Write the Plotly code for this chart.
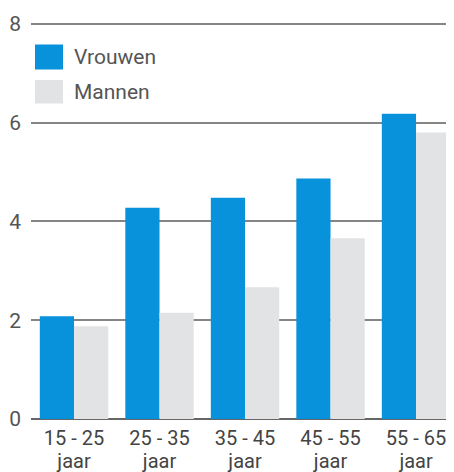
import plotly.graph_objects as go

groups = ["15 - 25", "25 - 35", "35 - 45", "45 - 55", "55 - 65"]
unit = "jaar"
vrouwen = [2.08, 4.28, 4.48, 4.87, 6.18]
mannen = [1.88, 2.15, 2.67, 3.66, 5.80]
y_ticks = [0, 2, 4, 6, 8]

BLUE = "#0892DB"
GRAY = "#E2E3E5"
FONT = "Roboto"

categories = [f'<span style="font-size:20px">{g}</span><br><span style="font-size:20px">{unit}</span>' for g in groups]

fig = go.Figure()
fig.add_trace(go.Bar(x=categories, y=vrouwen, name="Vrouwen", marker=dict(color=BLUE, line=dict(width=0))))
fig.add_trace(go.Bar(x=categories, y=mannen, name="Mannen", marker=dict(color=GRAY, line=dict(width=0))))

# page body has an 8px margin; figure is sized to fit the window
OFF = 8
W, H = 454 - OFF, 472 - OFF
TOP = 22 - OFF
LEFT = 31 - OFF
BOTTOM = 472 - 419
YMAX = 8.04
plot_h = H - TOP - BOTTOM
plot_w = W - LEFT

fig.update_layout(
    width=W, height=H,
    margin=dict(l=LEFT, r=0, t=TOP, b=BOTTOM, pad=0),
    paper_bgcolor="white", plot_bgcolor="white",
    barmode="group", bargap=0.2, bargroupgap=0,
    showlegend=False,
    font=dict(family=FONT, size=17, color="#444"),
    xaxis=dict(range=[-0.503, 4.444], showgrid=False, showline=False, zeroline=False, automargin=False,
               ticks="", ticklabelstandoff=7, tickfont=dict(size=18, color="#444")),
    yaxis=dict(range=[0, YMAX], tickvals=y_ticks, showgrid=True, gridcolor="#858585", gridwidth=1.5,
               zeroline=True, zerolinecolor="#666", zerolinewidth=2, showline=False, automargin=False,
               ticks="", ticklabelstandoff=9, tickfont=dict(size=21, color="#555")),
)

# legend drawn as decorations (page coordinates converted to paper fractions)
def px(xp):
    return (xp - OFF - LEFT) / plot_w

def py(yp):
    return (H - BOTTOM - (yp - OFF)) / plot_h

legend_items = [("Vrouwen", BLUE, 44.5, 69.5), ("Mannen", GRAY, 80, 103.5)]
for label, color, ytop, ybot in legend_items:
    fig.add_shape(type="rect", xref="paper", yref="paper",
                  x0=px(35), x1=px(63), y0=py(ybot), y1=py(ytop),
                  fillcolor=color, line=dict(width=0))
    fig.add_annotation(xref="paper", yref="paper", x=px(72), y=py((ytop + ybot) / 2),
                       text=label, showarrow=False, xanchor="left", yanchor="middle",
                       font=dict(size=21, color="#555", family=FONT))

fig.write_html("out.html")
